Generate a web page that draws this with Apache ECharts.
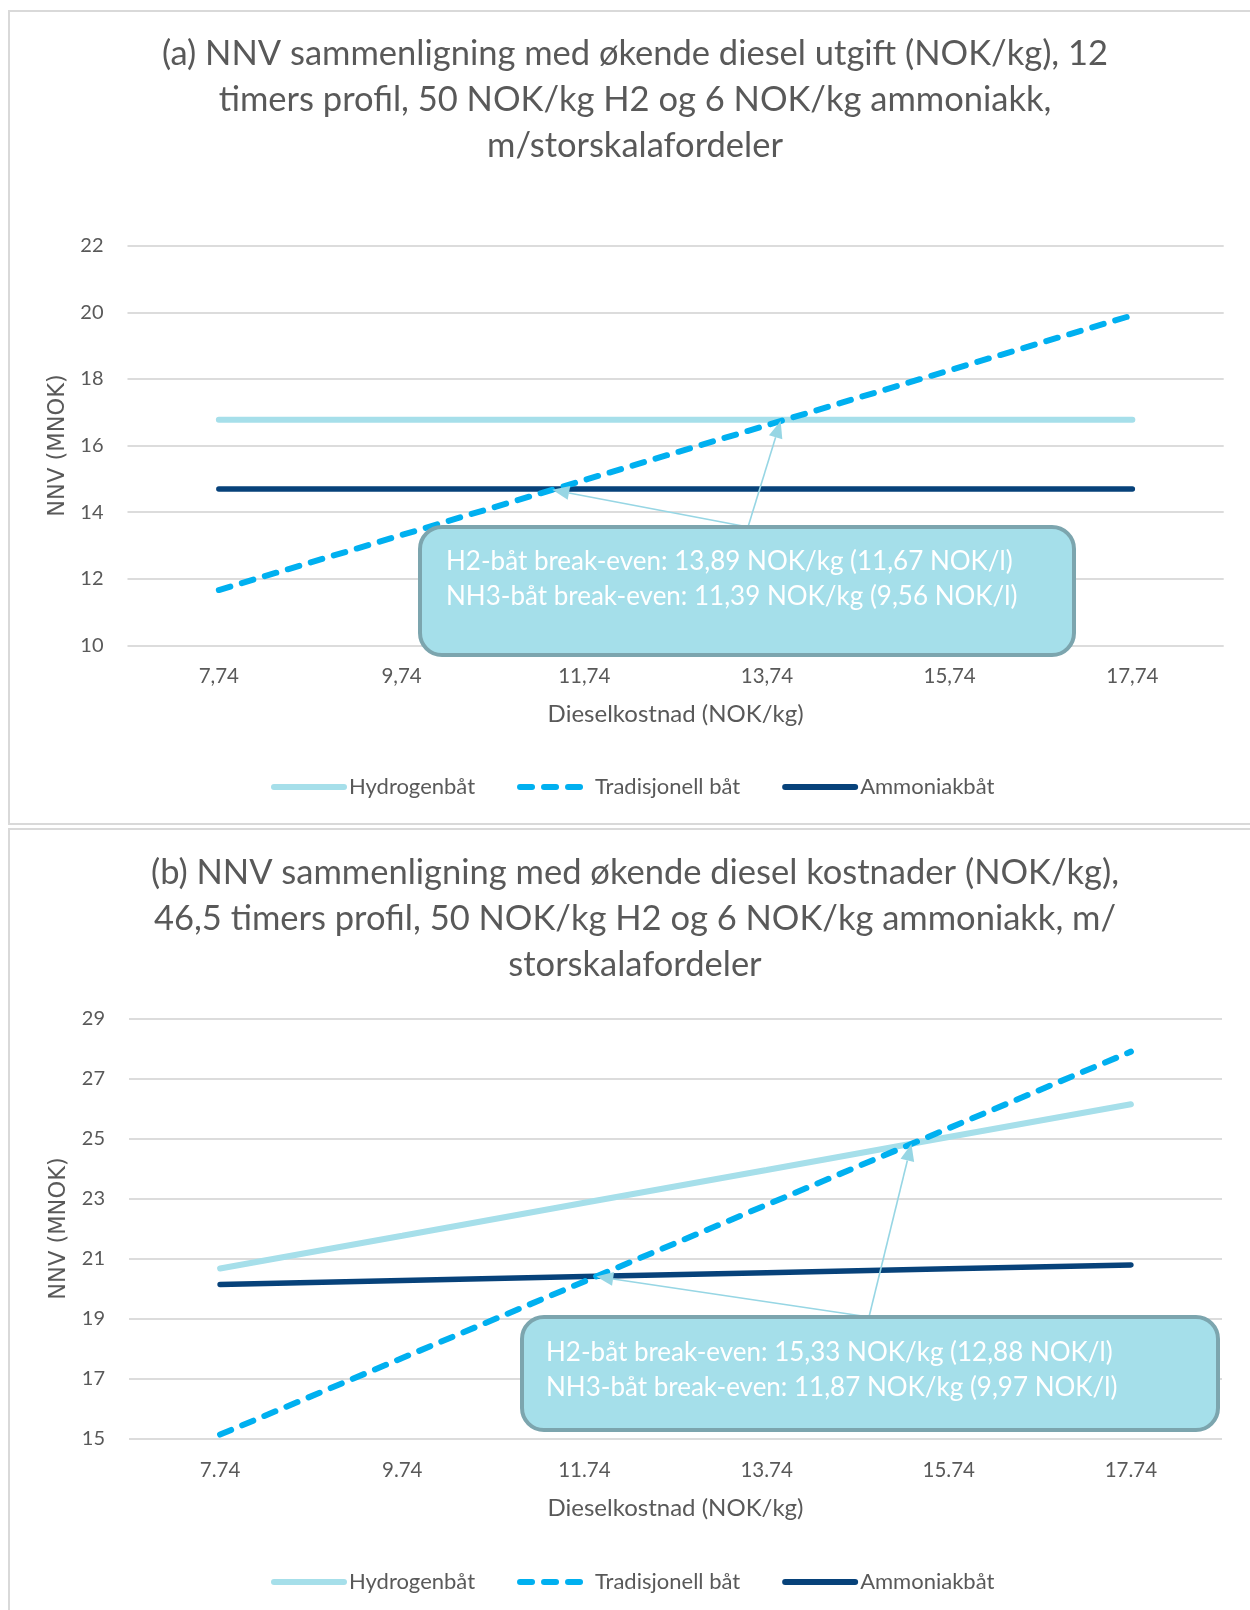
<!DOCTYPE html>
<html><head><meta charset="utf-8">
<script src="https://cdn.jsdelivr.net/npm/echarts@6/dist/echarts.min.js"></script>
<style>
html,body{margin:0;padding:0;background:#fff;overflow:hidden;width:1250px;height:1610px;}
.frame{position:absolute;border:2px solid #d9d9d9;box-sizing:border-box;}
.chart{position:absolute;left:0;width:1250px;}
</style></head><body>
<div class="frame" style="left:8px;top:10px;width:1300px;height:815px;"></div>
<div class="frame" style="left:8px;top:828px;width:1300px;height:900px;"></div>
<div id="chartA" class="chart" style="top:0;height:826px;"></div>
<div id="chartB" class="chart" style="top:826px;height:784px;"></div>
<script>
// ---- data ----
const dieselCost = [7.74, 9.74, 11.74, 13.74, 15.74, 17.74];
const xLabelsA = ['7,74', '9,74', '11,74', '13,74', '15,74', '17,74'];
const xLabelsB = ['7.74', '9.74', '11.74', '13.74', '15.74', '17.74'];
const seriesNames = ['Hydrogenbåt', 'Tradisjonell båt', 'Ammoniakbåt'];

const hydrogenA = [16.77, 16.77, 16.77, 16.77, 16.77, 16.77];
const traditionalA = [11.66, 13.31, 14.96, 16.61, 18.26, 19.91];
const ammoniaA = [14.69, 14.69, 14.69, 14.69, 14.69, 14.69];

const hydrogenB = [20.67, 21.76, 22.86, 23.95, 25.05, 26.14];
const traditionalB = [15.14, 17.69, 20.24, 22.79, 25.34, 27.89];
const ammoniaB = [20.14, 20.27, 20.40, 20.53, 20.66, 20.79];

const yTicksA = {min: 10, max: 22, interval: 2};
const yTicksB = {min: 15, max: 29, interval: 2};

const breakEvenA = [13.89, 11.39]; // H2, NH3 (NOK/kg)
const breakEvenB = [15.33, 11.87];
const calloutA = ['H2-båt break-even: 13,89 NOK/kg (11,67 NOK/l)', 'NH3-båt break-even: 11,39 NOK/kg (9,56 NOK/l)'];
const calloutB = ['H2-båt break-even: 15,33 NOK/kg (12,88 NOK/l)', 'NH3-båt break-even: 11,87 NOK/kg (9,97 NOK/l)'];

const titleA = '(a) NNV sammenligning med økende diesel utgift (NOK/kg), 12\ntimers profil, 50 NOK/kg H2 og 6 NOK/kg ammoniakk,\nm/storskalafordeler';
const titleB = '(b) NNV sammenligning med økende diesel kostnader (NOK/kg),\n46,5 timers profil, 50 NOK/kg H2 og 6 NOK/kg ammoniakk, m/\nstorskalafordeler';

// ---- styles ----
const C_H2 = '#a6dfea', C_TRAD = '#00b0f0', C_NH3 = '#07427a';
const TXT = '#595959';
const FONT = 'Lato';

function makeOption(cfg) {
  return {
    animation: false,
    title: {
      text: cfg.title, left: 630, textAlign: 'center', top: cfg.titleTop,
      textStyle: {fontFamily: FONT, fontSize: 34.5, fontWeight: 'normal', color: TXT, lineHeight: 46, align: 'center'}
    },
    legend: {
      data: seriesNames, left: 266, top: cfg.legendTop, itemWidth: 70, itemHeight: 14, itemGap: 42,
      itemStyle: {opacity: 0},
      lineStyle: {width: 6},
      textStyle: {fontFamily: FONT, fontSize: 22, color: TXT}
    },
    grid: {left: cfg.grid[0], right: cfg.grid[1], top: cfg.grid[2], bottom: cfg.grid[3], containLabel: false},
    xAxis: {
      type: 'category', data: cfg.xLabels, boundaryGap: true,
      axisLine: {show: false}, axisTick: {show: false},
      axisLabel: {fontFamily: FONT, fontSize: 20.5, color: TXT, margin: 21},
      name: 'Dieselkostnad (NOK/kg)', nameLocation: 'middle', nameGap: 57,
      nameTextStyle: {fontFamily: FONT, fontSize: 24, color: TXT}
    },
    yAxis: {
      type: 'value', min: cfg.y.min, max: cfg.y.max, interval: cfg.y.interval,
      axisLine: {show: false}, axisTick: {show: false},
      axisLabel: {fontFamily: FONT, fontSize: 20, color: TXT, margin: 24},
      splitLine: {lineStyle: {color: '#dcdcdc', width: 2}},
      name: 'NNV (MNOK)', nameLocation: 'middle', nameGap: 57, nameRotate: 90,
      nameTextStyle: {fontFamily: 'DejaVu Sans', fontSize: 22.5, color: TXT}
    },
    series: [
      {name: seriesNames[0], type: 'line', data: cfg.h2, symbol: 'none', z: 2,
       lineStyle: {color: C_H2, width: 6, cap: 'round'}, itemStyle: {color: C_H2}},
      {name: seriesNames[1], type: 'line', data: cfg.trad, symbol: 'none', z: 3,
       lineStyle: {color: C_TRAD, width: 6, type: [12, 12], cap: 'round'}, itemStyle: {color: C_TRAD}},
      {name: seriesNames[2], type: 'line', data: cfg.nh3, symbol: 'none', z: 2,
       lineStyle: {color: C_NH3, width: 5.5, cap: 'round'}, itemStyle: {color: C_NH3}}
    ]
  };
}

function interp(xs, ys, x) {
  for (let i = 0; i < xs.length - 1; i++) {
    if (x >= xs[i] && x <= xs[i + 1]) {
      const t = (x - xs[i]) / (xs[i + 1] - xs[i]);
      return ys[i] + t * (ys[i + 1] - ys[i]);
    }
  }
  return ys[ys.length - 1];
}

function arrowEls(from, to, color) {
  const dx = to[0] - from[0], dy = to[1] - from[1];
  const len = Math.sqrt(dx * dx + dy * dy);
  const ux = dx / len, uy = dy / len;
  const hl = 17, hw = 7;
  const bx = to[0] - ux * hl, by = to[1] - uy * hl;
  return [
    {type: 'line', z: 20, shape: {x1: from[0], y1: from[1], x2: bx, y2: by},
     style: {stroke: color, lineWidth: 1.6}},
    {type: 'polygon', z: 20, shape: {points: [to, [bx - uy * hw, by + ux * hw], [bx + uy * hw, by - ux * hw]]},
     style: {fill: color}}
  ];
}

function addCallout(chart, cfg) {
  const p0 = chart.convertToPixel({xAxisIndex: 0, yAxisIndex: 0}, [0, cfg.y.min]);
  const p1 = chart.convertToPixel({xAxisIndex: 0, yAxisIndex: 0}, [1, cfg.y.min]);
  const step = (p1[0] - p0[0]) / (dieselCost[1] - dieselCost[0]);
  const toPx = (x, y) => [p0[0] + (x - dieselCost[0]) * step, chart.convertToPixel({yAxisIndex: 0}, y)];
  const tips = cfg.breakEven.map(x => toPx(x, interp(dieselCost, cfg.trad, x)));
  const b = cfg.box;
  const color = '#97d6e4';
  let els = [];
  tips.forEach(t => { els = els.concat(arrowEls(b.origin, t, color)); });
  els.push({type: 'rect', z: 30, shape: {x: b.x, y: b.y, width: b.w, height: b.h, r: 22},
            style: {fill: '#a5dfea', stroke: '#7ca5ae', lineWidth: 4}});
  cfg.callout.forEach((s, i) => {
    els.push({type: 'text', z: 31, x: b.tx, y: b.ty[i],
              style: {text: s, fill: '#ffffff', fontFamily: FONT, fontSize: 26, verticalAlign: 'middle'}});
  });
  chart.setOption({graphic: {elements: els}});
}

const cfgA = {
  title: titleA, titleTop: 26, legendTop: 771,
  grid: [127.5, 26.3, 245.7, 180.7], xLabels: xLabelsA, y: yTicksA,
  h2: hydrogenA, trad: traditionalA, nh3: ammoniaA,
  breakEven: breakEvenA, callout: calloutA,
  box: {x: 420, y: 527, w: 654, h: 128, origin: [748, 527], tx: 446, ty: [562, 597]}
};
const cfgB = {
  title: titleB, titleTop: 19, legendTop: 740,
  grid: [129, 28, 192.3, 171.2], xLabels: xLabelsB, y: yTicksB,
  h2: hydrogenB, trad: traditionalB, nh3: ammoniaB,
  breakEven: breakEvenB, callout: calloutB,
  box: {x: 522, y: 491, w: 696, h: 113, origin: [869, 491], tx: 546, ty: [527, 562]}
};

const chartA = echarts.init(document.getElementById('chartA'));
chartA.setOption(makeOption(cfgA));
addCallout(chartA, cfgA);

const chartB = echarts.init(document.getElementById('chartB'));
chartB.setOption(makeOption(cfgB));
addCallout(chartB, cfgB);
</script>
</body></html>
